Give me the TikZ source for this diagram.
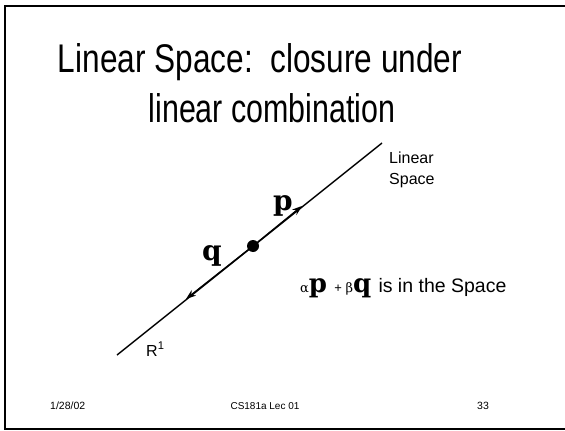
\documentclass[tikz,border=0pt]{standalone}
\usepackage{fontspec}
\setmainfont{Liberation Sans}
\newfontfamily\greekf{DejaVu Serif}
\newfontfamily\heavyf{DejaVu Serif}
\usetikzlibrary{arrows.meta}
\begin{document}
\begin{tikzpicture}[x=1pt,y=-1pt,
  frame/.style={line width=2pt},
  axis/.style={line width=1.4pt},
  vec/.style={line width=1.4pt,-{Stealth[length=10pt,width=7pt]}},
  lbl/.style={inner sep=0pt,anchor=base west},
  heavy/.style={inner sep=0pt,font=\fontsize{28}{28}\selectfont\heavyf\bfseries}]
\useasboundingbox (0,0) rectangle (565,431);
\draw[frame] (570,6) -- (5,6) -- (5,429) -- (570,429);
% title
\node (t1) at (260,62) {\fontsize{40}{40}\selectfont\scalebox{0.79}[1]{Linear Space:\ \ closure under}};
\node (t2) at (272,108) {\fontsize{40}{40}\selectfont\scalebox{0.76}[1]{linear combination}};
% line
\coordinate (a) at (117,355);
\coordinate (b) at (382,143);
\draw[axis] (a) -- (b);
\node[circle,fill=black,inner sep=0pt,minimum size=12pt] (o) at (253,246) {};
\coordinate (pt) at (302,206);
\coordinate (qt) at (186,299);
\draw[vec] (o) -- (pt);
\draw[vec] (o) -- (qt);
\node[heavy] (p) at (283,206) {p};
\node[heavy] (q) at (212,256) {q};
\node[lbl,font=\fontsize{16}{16}\selectfont] (ls1) at (389,163) {Linear};
\node[lbl,font=\fontsize{16}{16}\selectfont] (ls2) at (389,184) {Space};
\node[lbl,font=\fontsize{16}{16}\selectfont] (r1) at (146,356) {R$^{\mathrm{1}}$};
\node[lbl] (comb) at (300,292) {\fontsize{13}{13}\selectfont{\greekf α}{\fontsize{26}{26}\selectfont\heavyf\bfseries p}\ \ +\ {\greekf β}{\fontsize{26}{26}\selectfont\heavyf\bfseries q}\ \ \fontsize{19.5}{19.5}\selectfont is in the Space};
% footer
\node[lbl,font=\fontsize{10.5}{10.5}\selectfont] (f1) at (50,409) {1/28/02};
\node[anchor=base,inner sep=0pt,font=\fontsize{10}{10}\selectfont] (f2) at (265,409) {CS181a Lec 01};
\node[lbl,font=\fontsize{10.5}{10.5}\selectfont] (f3) at (477,409) {33};
\end{tikzpicture}
\end{document}
